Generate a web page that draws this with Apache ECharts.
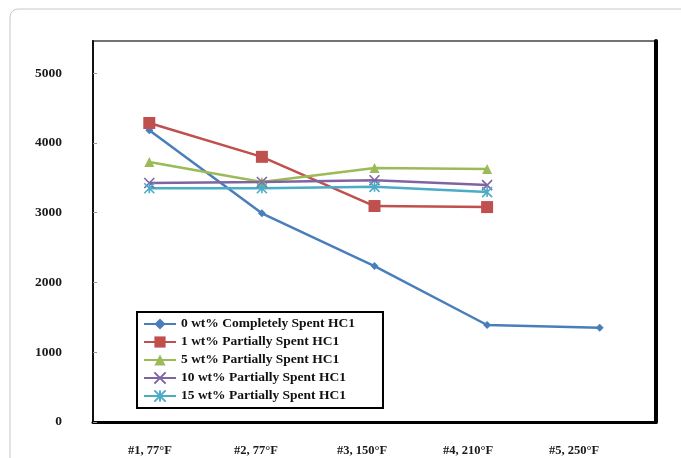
<!DOCTYPE html>
<html>
<head>
<meta charset="utf-8">
<script src="https://cdn.jsdelivr.net/npm/echarts@6/dist/echarts.min.js"></script>
<style>
  html, body { margin: 0; padding: 0; background: #fff; }
  #chart { width: 681px; height: 458px; }
</style>
</head>
<body>
<div id="chart"></div>
<script>
// 工况
var stages = ['#1, 77°F', '#2, 77°F', '#3, 150°F', '#4, 210°F', '#5, 250°F']
var yTicks = [0, 1000, 2000, 3000, 4000, 5000]

// 数据
var spent0 = [4180, 2990, 2235, 1390, 1350]
var spent1 = [4285, 3800, 3095, 3080]
var spent5 = [3725, 3440, 3640, 3625]
var spent10 = [3425, 3440, 3465, 3395]
var spent15 = [3350, 3350, 3370, 3295]

var names = [
  '0 wt% Completely Spent HC1',
  '1 wt% Partially Spent HC1',
  '5 wt% Partially Spent HC1',
  '10 wt% Partially Spent HC1',
  '15 wt% Partially Spent HC1'
]

var serif = 'Liberation Serif'
var xMark = 'path://M0,0L10,10M10,0L0,10'
var starMark = 'path://M0,0L10,10M10,0L0,10M5,0L5,10'

function lineSeries(name, data, color, symbol, size, stroke) {
  return {
    name: name,
    type: 'line',
    data: data,
    symbol: symbol,
    symbolSize: size,
    lineStyle: { color: color, width: 2.5 },
    itemStyle: {
      color: color,
      borderColor: color,
      borderWidth: stroke ? 1.6 : 0
    }
  }
}

var chart = echarts.init(document.getElementById('chart'))
chart.setOption({
  animation: false,
  graphic: [
    {
      type: 'rect',
      shape: { x: 10, y: 9, width: 700, height: 480, r: 8 },
      style: { fill: 'none', stroke: '#c8c8c8', lineWidth: 1 },
      z: -10
    }
  ],
  grid: [
    // 绘图区
    { left: 93, right: 25, top: 41, bottom: 36, show: true, borderColor: '#444', borderWidth: 1.5 },
    // 只放x轴文字
    { left: 97, right: 54, top: 41, bottom: 36 }
  ],
  xAxis: [
    {
      type: 'category',
      gridIndex: 0,
      data: stages,
      axisLine: { lineStyle: { color: '#000', width: 3 } },
      axisTick: { show: false },
      axisLabel: { show: false }
    },
    {
      type: 'category',
      gridIndex: 1,
      data: stages,
      axisLine: { show: false },
      axisTick: { show: false },
      axisLabel: {
        margin: 22,
        color: '#1a1a1a',
        fontFamily: serif,
        fontWeight: 'bold',
        fontSize: 12.5
      }
    }
  ],
  yAxis: [
    {
      type: 'value',
      gridIndex: 0,
      min: 0,
      max: 5460,
      interval: 1000,
      splitLine: { show: false },
      axisLine: { show: true, lineStyle: { color: '#111', width: 2 } },
      axisTick: { show: true, inside: true, length: 4, lineStyle: { color: '#999' } },
      axisLabel: {
        showMaxLabel: false,
        margin: 31,
        color: '#1a1a1a',
        fontFamily: serif,
        fontWeight: 'bold',
        fontSize: 13.5,
        formatter: function (v) {
          return yTicks.indexOf(v) >= 0 ? String(v) : ''
        }
      }
    },
    {
      type: 'value',
      gridIndex: 0,
      position: 'right',
      min: 0,
      max: 5460,
      splitLine: { show: false },
      axisLine: { show: true, lineStyle: { color: '#000', width: 4 } },
      axisTick: { show: false },
      axisLabel: { show: false }
    },
    { type: 'value', gridIndex: 1, show: false }
  ],
  legend: {
    orient: 'vertical',
    left: 137,
    top: 312,
    itemWidth: 32,
    itemHeight: 14,
    itemGap: 4,
    padding: [5, 28, 5, 6],
    borderColor: '#000',
    borderWidth: 2,
    backgroundColor: '#fff',
    textStyle: {
      color: '#111',
      fontFamily: serif,
      fontWeight: 'bold',
      fontSize: 13.5,
      lineHeight: 14
    },
    data: names
  },
  series: [
    lineSeries(names[0], spent0, '#4a7ebb', 'diamond', 8, false),
    lineSeries(names[1], spent1, '#c0504d', 'rect', 12, false),
    lineSeries(names[2], spent5, '#9bbb59', 'triangle', 10, false),
    lineSeries(names[3], spent10, '#8064a2', xMark, 10, true),
    lineSeries(names[4], spent15, '#4bacc6', starMark, 10, true)
  ]
})
</script>
</body>
</html>
